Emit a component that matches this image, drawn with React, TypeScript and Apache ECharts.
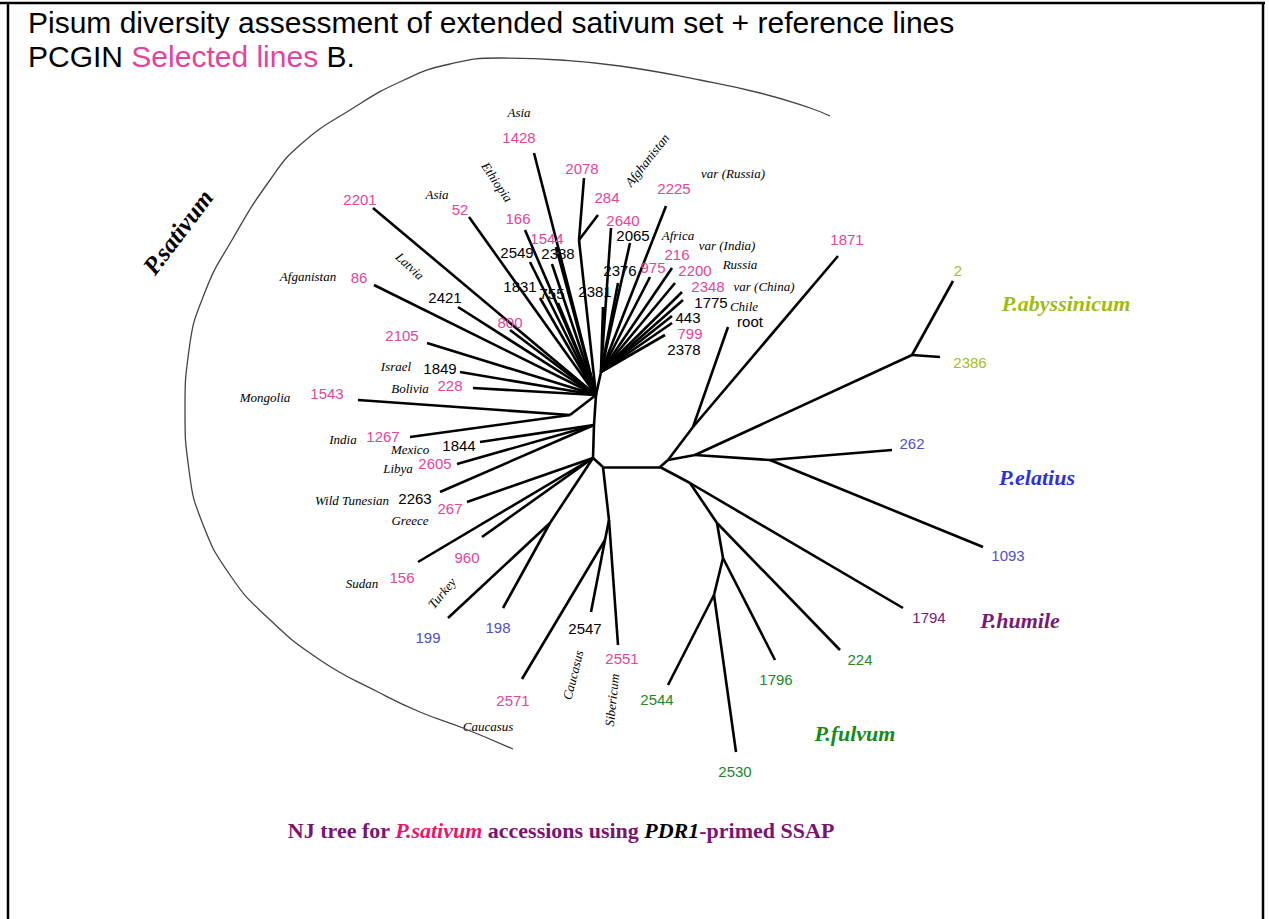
import React, { useEffect, useRef } from "react";
import * as echarts from "echarts";

// ---- tree nodes (internal + leaf tips), in picture coordinates ----
const nodes: Record<string, [number, number]> = {
  H1: [596, 395], T1: [601, 372], V2: [594, 425], H0: [593, 458], H2: [603, 467], H3: [660, 467],
  S78: [579, 240], L1: [570, 415], TK: [550, 523], A51: [609, 520], B47: [605, 540],
  R0: [668, 460], R1: [693, 427], R2: [695, 455], ABY: [912, 355], EL: [770, 460],
  F1: [690, 483], F2: [717, 523], F3: [723, 558], F4: [714, 595],
  t1428: [534, 153], t2078: [584, 178], t284: [598, 215], t2640: [611, 228], t2225: [666, 206],
  t2065: [630, 243], t2376: [618, 283], t2381: [603, 307], t975: [650, 277], t216: [672, 268],
  t2200: [675, 283], t2348: [682, 292], t1775: [683, 300], t443: [672, 316], t799: [672, 323],
  t2378: [665, 335], t166: [525, 230], t1544: [556, 247], t2549: [530, 262], t2388: [552, 264],
  t1831: [540, 298], t755: [558, 303], t800: [510, 330], t2201: [373, 208], t52: [469, 217],
  t86: [374, 285], t2421: [458, 307], t2105: [427, 343], t1849: [460, 372], t228: [473, 388],
  t1543: [358, 400], t1267: [410, 437], t1844: [480, 442], t2605: [457, 464], t2263: [440, 492],
  t267: [467, 502], t960: [482, 537], t156: [418, 562], t199: [448, 618], t198: [503, 608],
  t2571: [522, 679], t2547: [591, 612], t2551: [618, 645], troot: [728, 327], t1871: [838, 256],
  t2: [953, 281], t2386: [940, 357], t262: [892, 450], t1093: [983, 547], t1794: [903, 608],
  t224: [840, 650], t1796: [775, 660], t2544: [668, 685], t2530: [736, 752],
};

const edges: [string, string][] = [
  ["H1", "V2"], ["V2", "H0"], ["H0", "H2"], ["H2", "H3"],
  ["H1", "t1428"], ["H1", "S78"], ["S78", "t2078"], ["S78", "t284"], ["H1", "T1"],
  ["T1", "t2640"], ["T1", "t2225"], ["T1", "t2065"], ["T1", "t2376"], ["T1", "t2381"], ["T1", "t975"],
  ["T1", "t216"], ["T1", "t2200"], ["T1", "t2348"], ["T1", "t1775"], ["T1", "t443"], ["T1", "t799"], ["T1", "t2378"],
  ["H1", "t166"], ["H1", "t1544"], ["H1", "t2549"], ["H1", "t2388"], ["H1", "t1831"], ["H1", "t755"], ["H1", "t800"],
  ["H1", "t2201"], ["H1", "t52"], ["H1", "t86"], ["H1", "t2421"], ["H1", "t2105"], ["H1", "t1849"], ["H1", "t228"],
  ["H1", "L1"], ["L1", "t1543"], ["L1", "t1267"],
  ["V2", "t1844"], ["V2", "t2605"], ["V2", "t2263"],
  ["H0", "t267"], ["H0", "t960"], ["H0", "t156"], ["H0", "TK"], ["TK", "t199"], ["TK", "t198"],
  ["H2", "A51"], ["A51", "t2551"], ["A51", "B47"], ["B47", "t2547"], ["B47", "t2571"],
  ["H3", "R0"], ["R0", "R1"], ["R1", "troot"], ["R1", "t1871"], ["R0", "R2"], ["R2", "ABY"],
  ["ABY", "t2"], ["ABY", "t2386"], ["R2", "EL"], ["EL", "t262"], ["EL", "t1093"],
  ["H3", "F1"], ["F1", "t1794"], ["F1", "F2"], ["F2", "t224"], ["F2", "F3"], ["F3", "t1796"],
  ["F3", "F4"], ["F4", "t2544"], ["F4", "t2530"],
];

// ---- accession labels: text, x, y, group ----
const accessionLabels: [string, number, number, string][] = [
  ["1428", 519, 137, "pink"], ["2078", 582, 168, "pink"], ["284", 607, 197, "pink"], ["2225", 674, 188, "pink"],
  ["2640", 623, 220, "pink"], ["166", 518, 218, "pink"], ["1544", 547, 238, "pink"], ["975", 653, 267, "pink"],
  ["216", 677, 254, "pink"], ["2200", 695, 270, "pink"], ["2348", 708, 286, "pink"], ["799", 690, 333, "pink"],
  ["1871", 847, 239, "pink"], ["2201", 360, 199, "pink"], ["52", 460, 209, "pink"], ["86", 359, 277, "pink"],
  ["800", 510, 322, "pink"], ["2105", 402, 335, "pink"], ["228", 450, 385, "pink"], ["1543", 327, 393, "pink"],
  ["1267", 383, 436, "pink"], ["2605", 435, 463, "pink"], ["267", 450, 508, "pink"], ["960", 467, 557, "pink"],
  ["156", 402, 577, "pink"], ["2571", 513, 700, "pink"], ["2551", 622, 658, "pink"],
  ["2065", 633, 235, "black"], ["2549", 517, 252, "black"], ["2388", 558, 253, "black"], ["1831", 520, 286, "black"],
  ["755", 552, 293, "black"], ["2381", 595, 291, "black"], ["2376", 620, 270, "black"], ["1775", 711, 302, "black"],
  ["443", 688, 317, "black"], ["2378", 684, 349, "black"], ["root", 750, 321, "black"], ["2421", 445, 297, "black"],
  ["1849", 440, 368, "black"], ["1844", 459, 445, "black"], ["2263", 415, 498, "black"], ["2547", 585, 628, "black"],
  ["262", 912, 443, "blue"], ["1093", 1008, 555, "blue"], ["199", 428, 637, "blue"], ["198", 498, 627, "blue"],
  ["2", 958, 270, "yellow"], ["2386", 970, 362, "yellow"],
  ["224", 860, 659, "green"], ["1796", 776, 679, "green"], ["2544", 657, 699, "green"], ["2530", 735, 771, "green"],
  ["1794", 929, 617, "purple"],
];

// ---- origin labels: text, x, y, rotation ----
const originLabels: [string, number, number, number][] = [
  ["Asia", 519, 112, 0], ["var (Russia)", 733, 173, 0], ["Afghanistan", 647, 160, 52], ["Ethiopia", 497, 182, -56],
  ["Africa", 678, 235, 0], ["var (India)", 727, 245, 0], ["Russia", 740, 264, 0], ["var (China)", 764, 286, 0],
  ["Chile", 744, 306, 0], ["Asia", 437, 194, 0], ["Afganistan", 308, 276, 0], ["Latvia", 410, 266, -43],
  ["Israel", 396, 366, 0], ["Bolivia", 410, 388, 0], ["Mongolia", 265, 397, 0], ["India", 343, 439, 0],
  ["Mexico", 410, 449, 0], ["Libya", 398, 468, 0], ["Wild Tunesian", 352, 500, 0], ["Greece", 410, 520, 0],
  ["Sudan", 362, 583, 0], ["Turkey", 442, 593, 50], ["Caucasus", 488, 726, 0], ["Caucasus", 573, 675, 76],
  ["Sibericum", 612, 700, 84],
];

// ---- clade labels: text, x, y, group, rotation ----
const cladeLabels: [string, number, number, string, number][] = [
  ["P.sativum", 178, 232, "black", 53], ["P.abyssinicum", 1066, 303, "yellowClade", 0],
  ["P.elatius", 1037, 477, "blueClade", 0], ["P.humile", 1020, 620, "purple", 0], ["P.fulvum", 855, 733, "greenClade", 0],
];

// ---- the P.sativum bracket ----
const bracketPoints: [number, number][] = [
  [830, 116], [810, 108], [760, 93], [700, 80], [620, 66], [560, 60], [500, 58], [450, 64], [404, 80],
  [350, 110], [300, 145], [270, 180], [232, 240], [205, 292], [189, 350], [185, 410], [189, 470],
  [202, 522], [230, 575], [267, 617], [320, 660], [380, 693], [420, 712], [463, 728], [513, 749],
];

const colors: Record<string, string> = {
  pink: "#E2459B", black: "#000000", blue: "#4F4FC8", yellow: "#A6C01C", green: "#23862A",
  purple: "#771A77", yellowClade: "#9DBD10", blueClade: "#2F2FE0", greenClade: "#188A18",
};

export default function App() {
  const ref = useRef<HTMLDivElement>(null);
  useEffect(() => {
    if (!ref.current) return;
    const chart = echarts.init(ref.current, undefined, { renderer: "svg" });
    const sans = "'Liberation Sans', Arial, sans-serif";
    const serif = "'Liberation Serif', 'Times New Roman', serif";
    const labelScatter = {
      type: "scatter", symbolSize: 1, silent: true,
      itemStyle: { color: "#fff", opacity: 1 },
      emphasis: { disabled: true },
    };
    chart.setOption({
      animation: false,
      backgroundColor: "#ffffff",
      grid: { left: 0, right: 0, top: 0, bottom: 0 },
      xAxis: { type: "value", min: 0, max: 1269, show: false },
      yAxis: { type: "value", min: 0, max: 919, inverse: true, show: false },
      graphic: [
        { type: "line", shape: { x1: 0, y1: 3, x2: 1265, y2: 3 }, style: { stroke: "#000", lineWidth: 2.5 }, silent: true },
        { type: "line", shape: { x1: 8, y1: 3, x2: 8, y2: 919 }, style: { stroke: "#000", lineWidth: 2.5 }, silent: true },
        { type: "line", shape: { x1: 1263, y1: 3, x2: 1263, y2: 919 }, style: { stroke: "#000", lineWidth: 2.5 }, silent: true },
        {
          type: "text", x: 28, y: 22, silent: true,
          style: { text: "Pisum diversity assessment of extended sativum set + reference lines", fill: "#000", font: `30px ${sans}`, verticalAlign: "middle" },
        },
        {
          type: "text", x: 28, y: 56, silent: true,
          style: {
            text: "{a|PCGIN }{b|Selected lines}{a| B.}", verticalAlign: "middle",
            rich: {
              a: { fill: "#000", fontSize: 30, fontFamily: sans },
              b: { fill: "#E4449B", fontSize: 30, fontFamily: sans },
            },
          },
        },
        {
          type: "text", x: 561, y: 830, silent: true,
          style: {
            text: "{p|NJ tree for }{s|P.sativum}{p| accessions using }{k|PDR1}{p|-primed SSAP}",
            align: "center", verticalAlign: "middle",
            rich: {
              p: { fill: "#7A1470", fontSize: 22, fontWeight: "bold", fontFamily: serif },
              s: { fill: "#E6176C", fontSize: 22, fontWeight: "bold", fontStyle: "italic", fontFamily: serif },
              k: { fill: "#000", fontSize: 22, fontWeight: "bold", fontStyle: "italic", fontFamily: serif },
            },
          },
        },
      ],
      series: [
        {
          type: "line", data: bracketPoints, smooth: 0.5, symbol: "none", silent: true,
          lineStyle: { color: "#444", width: 1.3 },
        },
        {
          type: "lines", coordinateSystem: "cartesian2d", silent: true,
          lineStyle: { color: "#000", width: 2.6, opacity: 1 },
          data: edges.map(([a, b]) => ({ coords: [nodes[a], nodes[b]] })),
        },
        {
          ...labelScatter,
          label: { show: true, position: "inside", formatter: "{b}", fontSize: 15, fontFamily: sans, align: "center", verticalAlign: "middle", opacity: 1 },
          data: accessionLabels.map(([t, x, y, g]) => ({ name: t, value: [x, y], label: { color: colors[g] } })),
        },
        {
          ...labelScatter,
          label: { show: true, position: "inside", formatter: "{b}", fontSize: 13, fontStyle: "italic", fontFamily: serif, color: "#000", align: "center", verticalAlign: "middle", opacity: 1 },
          data: originLabels.map(([t, x, y, r]) => ({ name: t, value: [x, y], label: { rotate: r } })),
        },
        {
          ...labelScatter,
          label: { show: true, position: "inside", formatter: "{b}", fontSize: 22, fontStyle: "italic", fontWeight: "bold", fontFamily: serif, align: "center", verticalAlign: "middle", opacity: 1 },
          data: cladeLabels.map(([t, x, y, g, r]) => ({ name: t, value: [x, y], label: { color: colors[g], rotate: r, fontSize: t === "P.sativum" ? 25 : 22 } })),
        },
      ],
    });
    return () => chart.dispose();
  }, []);
  return <div ref={ref} style={{ position: "fixed", left: 0, top: 0, width: 1269, height: 919 }} />;
}
